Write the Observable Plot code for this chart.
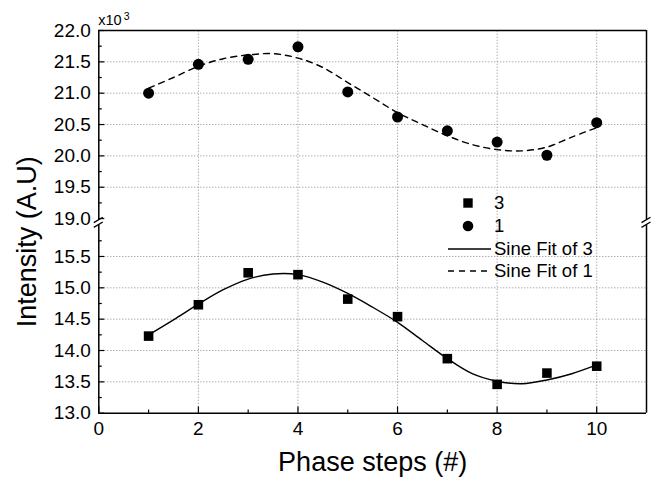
<!DOCTYPE html>
<html><head><meta charset="utf-8">
<script src="https://cdn.jsdelivr.net/npm/d3@7"></script>
<script src="https://cdn.jsdelivr.net/npm/@observablehq/plot@0.6"></script>
<style>html,body{margin:0;padding:0;background:#fff}svg{display:block}</style>
</head><body><div id="chart"></div>
<script>
// ---- data ----
const steps = [1, 2, 3, 4, 5, 6, 7, 8, 9, 10];
const series3 = [14.23, 14.73, 15.24, 15.21, 14.82, 14.54, 13.87, 13.46, 13.64, 13.75];
const series1 = [21.00, 21.46, 21.54, 21.74, 21.02, 20.62, 20.40, 20.22, 20.01, 20.53];
const fitX = [1, 1.5, 2, 2.5, 3, 3.5, 4, 4.5, 5, 5.5, 6, 6.5, 7, 7.5, 8, 8.5, 9, 9.5, 10];
const fit3 = [14.25, 14.49, 14.74, 14.97, 15.14, 15.22, 15.21, 15.09, 14.91, 14.69, 14.45, 14.16, 13.87, 13.63, 13.51, 13.47, 13.53, 13.63, 13.77];
const fit1 = [21.08, 21.25, 21.43, 21.55, 21.61, 21.63, 21.56, 21.41, 21.17, 20.93, 20.69, 20.50, 20.32, 20.18, 20.10, 20.08, 20.14, 20.30, 20.45];
const xTicks = [0, 2, 4, 6, 8, 10];
const xMinor = [1, 3, 5, 7, 9];
const yTicksLower = [13.0, 13.5, 14.0, 14.5, 15.0, 15.5];
const yTicksUpper = [19.0, 19.5, 20.0, 20.5, 21.0, 21.5, 22.0];
const yMinorLower = [13.25, 13.75, 14.25, 14.75, 15.25, 15.75];
const yMinorUpper = [19.25, 19.75, 20.25, 20.75, 21.25, 21.75];
const legendLabels = ["3", "1", "Sine Fit of 3", "Sine Fit of 1"];
const xTitle = "Phase steps (#)";
const yTitle = "Intensity (A.U)";
const breakLow = 16, breakHigh = 18.97, breakGap = 0.075;

const shift = breakHigh - breakLow - breakGap;
const yT = v => (v >= 17.5 ? v - shift : v);
const pts3 = steps.map((s, i) => ({x: s, y: series3[i]}));
const pts1 = steps.map((s, i) => ({x: s, y: series1[i]}));
const curve3 = fitX.map((s, i) => ({x: s, y: fit3[i]}));
const curve1 = fitX.map((s, i) => ({x: s, y: fit1[i]}));
const yTicks = [...yTicksLower, ...yTicksUpper];
const yGrid = yTicks.filter(v => v !== 13 && v !== 19 && v !== 22);
const font = "'Liberation Sans', Arial, sans-serif";

function overlay(index, scales, values, dims) {
  const g = d3.create("svg:g").attr("text-anchor", "start").attr("font-family", font).attr("fill", "#000");
  const Y = v => scales.y(yT(v));
  // axis break marks
  for (const X of [scales.x(0), scales.x(11)]) {
    for (const yy of [Y(breakLow), Y(breakHigh)]) {
      g.append("line").attr("x1", X - 4.5).attr("y1", yy + 2.7).attr("x2", X + 4.5).attr("y2", yy - 2.7)
        .attr("stroke", "#000").attr("stroke-width", 1.3);
    }
  }
  // x10^3
  g.append("text").attr("x", dims.marginLeft).attr("y", 25).attr("font-size", 14.5).text("x10");
  g.append("text").attr("x", dims.marginLeft + 25.5).attr("y", 19.5).attr("font-size", 10.5).text("3");
  // legend
  const lx = 448, tx = 494, rows = [203, 226, 249, 271];
  g.append("rect").attr("x", 468 - 4.7).attr("y", rows[0] - 4.7).attr("width", 9.4).attr("height", 9.4).attr("fill", "#000");
  g.append("circle").attr("cx", 468).attr("cy", rows[1]).attr("r", 5.3).attr("fill", "#000");
  g.append("line").attr("x1", lx).attr("x2", 491).attr("y1", rows[2]).attr("y2", rows[2]).attr("stroke", "#000").attr("stroke-width", 1.4);
  g.append("line").attr("x1", lx).attr("x2", 491).attr("y1", rows[3]).attr("y2", rows[3]).attr("stroke", "#000").attr("stroke-width", 1.4).attr("stroke-dasharray", "6,5");
  legendLabels.forEach((t, i) => {
    g.append("text").attr("x", tx).attr("y", rows[i]).attr("dy", "0.35em").attr("font-size", 18.5).text(t);
  });
  return g.node();
}

const chart = Plot.plot({
  width: 656,
  height: 479,
  marginLeft: 98.3,
  marginRight: 10,
  marginTop: 30,
  marginBottom: 66.3,
  style: {fontFamily: font, color: "#000", background: "#fff"},
  x: {domain: [0, 11], axis: null},
  y: {transform: yT, domain: [13, yT(22)], axis: null},
  marks: [
    Plot.ruleX(xTicks.filter(v => v > 0), {y1: 13, y2: 22, stroke: "#8a8a8a", strokeDasharray: "1,2"}),
    Plot.ruleY(yGrid, {x1: 0, x2: 11, stroke: "#8a8a8a", strokeDasharray: "1,2"}),
    // frame (left/right interrupted at the break)
    Plot.ruleX([0, 11], {y1: 13, y2: breakLow, strokeWidth: 1.5}),
    Plot.ruleX([0, 11], {y1: breakHigh, y2: 22, strokeWidth: 1.5}),
    Plot.ruleY([13, 22], {x1: 0, x2: 11, strokeWidth: 1.5}),
    // inward ticks
    Plot.ruleX(xTicks, {y1: 13, y2: 13.1, strokeWidth: 1.2}),
    Plot.ruleX(xMinor, {y1: 13, y2: 13.05, strokeWidth: 1.2}),
    Plot.ruleY(yTicks, {x1: 0, x2: 0.12, strokeWidth: 1.2}),
    Plot.ruleY([...yMinorLower, ...yMinorUpper], {x1: 0, x2: 0.07, strokeWidth: 1.2}),
    // tick labels
    Plot.text(xTicks, {x: d => d, y: 13, text: d => String(d), dy: 16, fontSize: 19, lineAnchor: "middle", fill: "#000"}),
    Plot.text(yTicks, {x: 0, y: d => d, text: d => d3.format(".1f")(d), dx: -8, textAnchor: "end", fontSize: 19, lineAnchor: "middle", fill: "#000"}),
    // fits
    Plot.line(curve3, {x: "x", y: "y", curve: "catmull-rom", stroke: "#000", strokeWidth: 1.4}),
    Plot.line(curve1, {x: "x", y: "y", curve: "catmull-rom", stroke: "#000", strokeWidth: 1.4, strokeDasharray: "6,5"}),
    // points
    Plot.dot(pts3, {x: "x", y: "y", symbol: "square", r: 5.4, fill: "#000", stroke: null}),
    Plot.dot(pts1, {x: "x", y: "y", symbol: "circle", r: 5.5, fill: "#000", stroke: null}),
    // titles
    Plot.text([xTitle], {text: d => d, frameAnchor: "bottom", dy: 49, fontSize: 27, lineAnchor: "middle", fill: "#000"}),
    Plot.text([yTitle], {text: d => d, frameAnchor: "left", dx: -71, dy: 20, rotate: -90, fontSize: 27, lineAnchor: "middle", textAnchor: "middle", fill: "#000"}),
    overlay
  ]
});
document.getElementById("chart").appendChild(chart);
</script>
</body></html>
